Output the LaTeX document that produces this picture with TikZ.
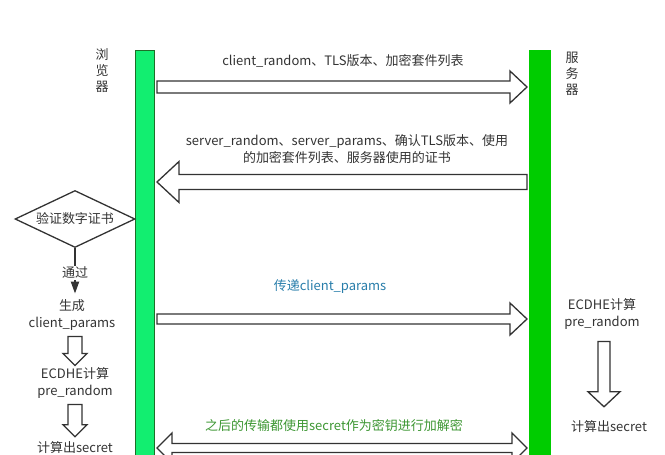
\documentclass[tikz,border=0pt]{standalone}
\usepackage{fontspec}
\setmainfont{Noto Sans CJK SC}
\usepackage{xcolor}
\usepackage{tikz}
\usetikzlibrary{arrows.meta}
\usetikzlibrary{calc}
\usetikzlibrary{positioning}
\usetikzlibrary{shapes.geometric}
\definecolor{barL}{RGB}{18,238,112}
\definecolor{barLedge}{RGB}{30,110,40}
\definecolor{barR}{RGB}{0,204,0}
\definecolor{txtblue}{RGB}{40,125,170}
\definecolor{txtgreen}{RGB}{60,150,50}
\definecolor{ink}{RGB}{51,51,51}

\begin{document}
\begin{tikzpicture}[x=1pt,y=-1pt,font=\fontsize{13}{16.5}\selectfont,text=ink,
	block/.style n args={3}{draw=ink,line width=1.3pt,fill=white,line join=miter,to path={
		($(\tikztotarget)!#3!(\tikztostart)$) coordinate (hb)
		($(\tikztostart)!#1!90:(\tikztotarget)$) -- ($(hb)!#1!90:(\tikztotarget)$)
		-- ($(hb)!#2!90:(\tikztotarget)$) -- (\tikztotarget)
		-- ($(hb)!#2!-90:(\tikztotarget)$) -- ($(hb)!#1!-90:(\tikztotarget)$)
		-- ($(\tikztostart)!#1!-90:(\tikztotarget)$) -- cycle}},
	dblock/.style n args={3}{draw=ink,line width=1.3pt,fill=white,line join=miter,to path={
		($(\tikztostart)!#3!(\tikztotarget)$) coordinate (ha)
		($(\tikztotarget)!#3!(\tikztostart)$) coordinate (hb)
		(\tikztostart) -- ($(ha)!#2!90:(\tikztotarget)$) -- ($(ha)!#1!90:(\tikztotarget)$)
		-- ($(hb)!#1!90:(\tikztotarget)$) -- ($(hb)!#2!90:(\tikztotarget)$) -- (\tikztotarget)
		-- ($(hb)!#2!-90:(\tikztotarget)$) -- ($(hb)!#1!-90:(\tikztotarget)$)
		-- ($(ha)!#1!-90:(\tikztotarget)$) -- ($(ha)!#2!-90:(\tikztotarget)$) -- cycle}}]
	\tikzstyle{lifeL}=[draw=barLedge, line width=1pt, fill=barL, minimum width=19pt, minimum height=420pt, anchor=north, inner sep=0pt, outer sep=2.5pt]
	\tikzstyle{lifeR}=[fill=barR, minimum width=22pt, minimum height=420pt, anchor=north, inner sep=0pt, outer sep=2pt]
	\tikzstyle{vlabel}=[align=center, font=\fontsize{13}{16}\selectfont]
	\tikzstyle{step2}=[align=center, inner sep=2pt]
	\tikzstyle{check}=[draw=ink, line width=1.3pt, diamond, aspect=2.1, minimum width=120pt, minimum height=57pt, inner sep=0pt]
	\tikzstyle{pass}=[draw=ink, line width=2pt, -{Triangle[length=12pt,width=8pt]}, shorten >=4pt]

	\useasboundingbox (0,0) rectangle (665,455);
	\clip (0,0) rectangle (665,455);

	% lifelines
	\node[lifeL] (lbar) at (145,48) {};
	\node[lifeR] (rbar) at (540,48) {};
	\node[vlabel] (lname) at (102,71) {浏\\览\\器};
	\node[vlabel] (rname) at (572,74) {服\\务\\器};

	% messages
	\coordinate (y1) at (0,87);
	\coordinate (y2) at (0,182);
	\coordinate (y3) at (0,319);
	\coordinate (y4) at (0,448);
	\node (msg1) at (343,61) {client\_random、TLS版本、加密套件列表};
	\node[align=center, font=\fontsize{13}{17}\selectfont] (msg2) at (347,149) {server\_random、server\_params、确认TLS版本、使用\\的加密套件列表、服务器使用的证书};
	\node[text=txtblue] (msg3) at (330,287) {传递client\_params};
	\node[text=txtgreen] (msg4) at (334,426) {之后的传输都使用secret作为密钥进行加解密};

	\draw[block={6pt}{16pt}{17pt}] (lbar.east |- y1) to (rbar.west |- y1);
	\draw[block={7.5pt}{20.5pt}{22pt}] (rbar.west |- y2) to (lbar.east |- y2);
	\draw[block={5pt}{16pt}{17pt}] (lbar.east |- y3) to (rbar.west |- y3);
	\draw[dblock={4.5pt}{15pt}{15pt}] (lbar.east |- y4) to (rbar.west |- y4);

	% browser side
	\node[check] (cert) at (75,219) {验证数字证书};
	\node[step2] (gen) at (72,315) {生成\\client\_params};
	\node[step2] (ecl) at (75,383) {ECDHE计算\\pre\_random};
	\node[step2] (secl) at (75,448) {计算出secret};
	\draw[pass] (cert.south) -- node[fill=white, inner sep=1pt] (passlbl) {通过} (cert.south |- gen.north);

	\coordinate (l1a) at ($(cert.south |- gen.south)+(0,4)$);
	\coordinate (l1b) at (cert.south |- ecl.north);
	\coordinate (l2a) at ($(cert.south |- ecl.south)+(0,4)$);
	\coordinate (l2b) at ($(cert.south |- secl.north)+(0,-3)$);
	\draw[block={7pt}{12pt}{12pt}] (l1a) to (l1b);
	\draw[block={7pt}{12pt}{12pt}] (l2a) to (l2b);

	% server side
	\node[step2] (ecr) at (602,314) {ECDHE计算\\pre\_random};
	\node[step2] (secr) at (609,427) {计算出secret};
	\coordinate (r1a) at ($(ecr.south)+(2,10)$);
	\coordinate (r1b) at ($(r1a |- secr.north)+(0,-12)$);
	\draw[block={6pt}{16pt}{15pt}] (r1a) to (r1b);
\end{tikzpicture}
\end{document}
